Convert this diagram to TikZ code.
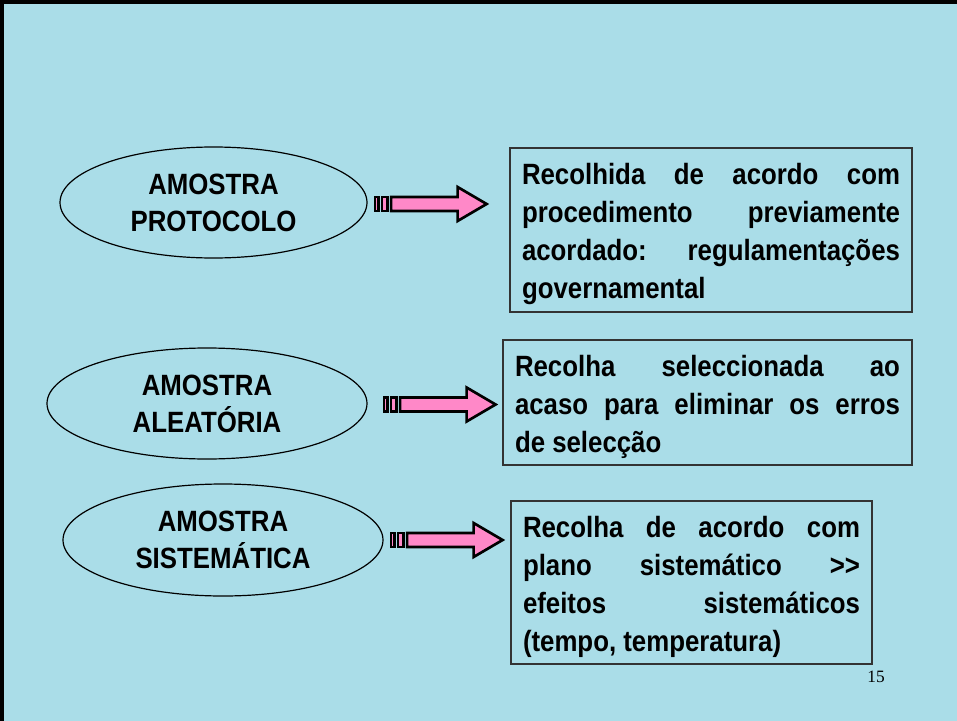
\documentclass[tikz,border=0pt]{standalone}
\usepackage{fontspec}
\setmainfont{Liberation Sans}[FakeStretch=0.88]
\newfontfamily\numfont{Liberation Serif}
\usetikzlibrary{shapes.geometric,calc}
\definecolor{waterbg}{RGB}{170,221,232}
\definecolor{arrowpink}{RGB}{255,136,200}
\hyphenpenalty=10000
\exhyphenpenalty=10000
\newcommand{\firstline}{\rule{0pt}{22pt}}
\newcommand{\stripearrow}[1]{\begin{scope}[shift={#1},line width=2pt,fill=arrowpink,line join=miter]
  \filldraw (1.3,-7) rectangle (5,7);
  \filldraw (8.3,-7) rectangle (14,7);
  \filldraw (17.5,-7) -- (84,-7) -- (84,-17) -- (113,0) -- (84,17) -- (84,7) -- (17.5,7) -- cycle;
\end{scope}}

\begin{document}
\begin{tikzpicture}[x=0.75pt,y=-0.75pt,
  amostra/.style={ellipse,draw,line width=0.9pt,inner sep=0pt,align=center,
    font=\bfseries\fontsize{22pt}{27.75pt}\selectfont},
  descbox/.style={rectangle,draw=black!80,line width=1pt,inner xsep=9pt,inner ysep=0pt,
    align=justify,font=\bfseries\fontsize{22pt}{28.5pt}\selectfont}]
\fill[waterbg] (0,0) rectangle (957,721);
\useasboundingbox (0,0) rectangle (957,721);
\draw[line width=3pt] (2,721) -- (2,2) -- (957,2);

\node[amostra,minimum width=230.25pt,minimum height=83.25pt] (ell1) at (213.5,202.5) {AMOSTRA\\PROTOCOLO};
\node[amostra,minimum width=240pt,minimum height=83.25pt] (ell2) at (207,403.5) {AMOSTRA\\ALEATÓRIA};
\node[amostra,minimum width=240pt,minimum height=84pt] (ell3) at (223,540) {AMOSTRA\\SISTEMÁTICA};

\node[descbox,text width=283.5pt,minimum width=301.5pt,minimum height=123pt] (box1) at (711,230)
  {\firstline Recolhida de acordo com\linebreak procedimento previamente\linebreak acordado: regulamentações\linebreak governamental};
\node[descbox,text width=288.75pt,minimum width=306.75pt,minimum height=93.75pt] (box2) at (707.5,402.5)
  {\firstline Recolha seleccionada ao\linebreak acaso para eliminar os erros\linebreak de selecção};
\node[descbox,text width=252.75pt,minimum width=270.75pt,minimum height=122.25pt] (box3) at (691.5,582.5)
  {\firstline Recolha de acordo com\linebreak plano sistemático >\kern0pt>\linebreak efeitos sistemáticos\linebreak (tempo, temperatura)};

\stripearrow{($(ell1.east)+(6,1.5)$)}
\stripearrow{($(ell2.east)+(15,1)$)}
\stripearrow{($(ell3.east)+(6,0)$)}

\node[font=\numfont\fontsize{13pt}{15pt}\selectfont,anchor=base east,inner sep=0pt] (pagenum) at (885,682) {15};
\end{tikzpicture}
\end{document}
